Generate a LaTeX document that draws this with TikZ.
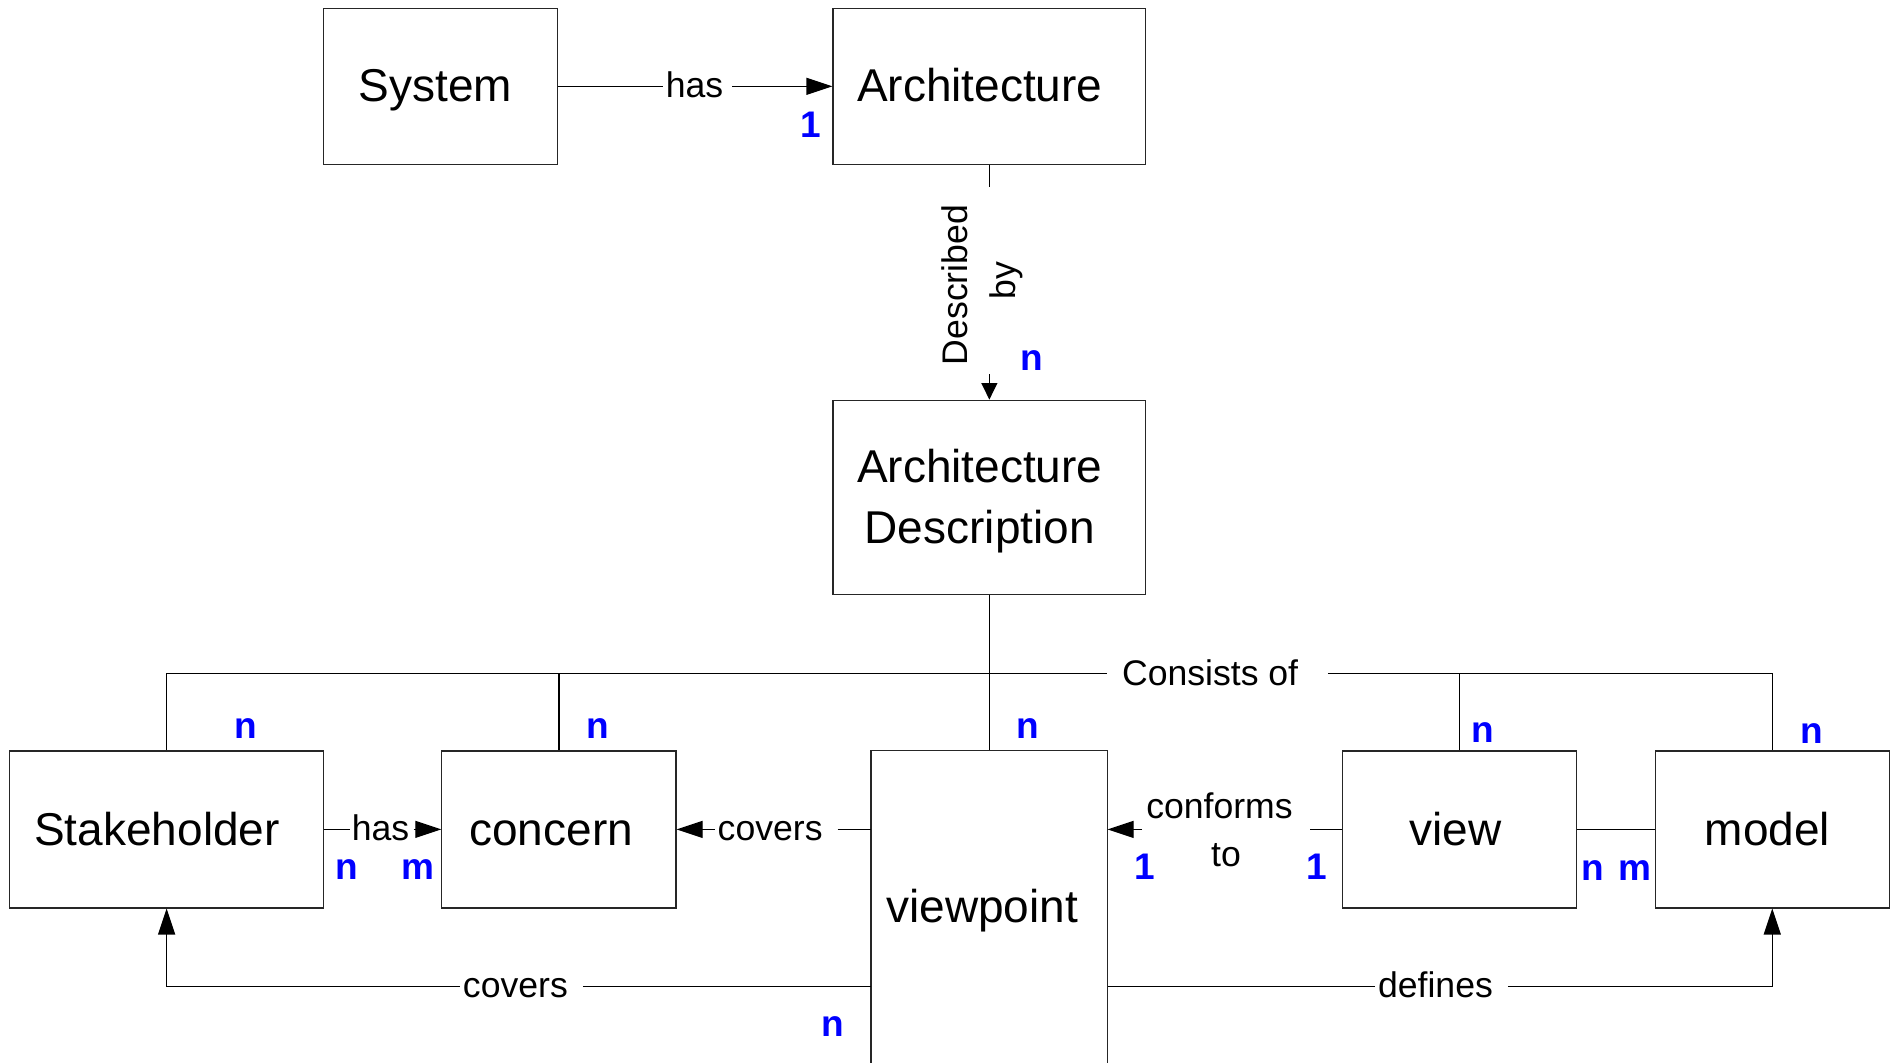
\documentclass[tikz,border=0pt]{standalone}
\usepackage{fontspec}
\setmainfont{Liberation Sans}
\usetikzlibrary{arrows.meta}

\begin{document}
\begin{tikzpicture}[x=0.60364pt, y=-0.60364pt, line width=0.6pt,
  boxfont/.style={font=\fontsize{23}{30.5}\selectfont},
  box/.style={draw=black!85, inner sep=0pt, boxfont, text height=15.6pt, text depth=0pt},
  openbox/.style={box, draw=none},
  twoline/.style={draw=black!85, inner sep=0pt, boxfont, align=center},
  lblfont/.style={font=\fontsize{17.8}{24}\selectfont},
  lbl/.style={inner xsep=0pt, inner ysep=1pt, lblfont, text height=11.5pt, text depth=0pt},
  lbltwo/.style={inner xsep=0pt, inner ysep=1pt, lblfont, align=center},
  card/.style={text=blue, inner sep=0pt, font=\fontsize{18.5}{20}\selectfont\bfseries},
  tip/.style={-{Triangle[length=13pt,width=8.5pt]}},
  smalltip/.style={-{Triangle[length=8.3pt,width=8pt]}},
]
\useasboundingbox (0,0) rectangle (1568,880.5);

% entity boxes
\node[box, minimum width=117.1pt, minimum height=77.9pt] (sys)  at (365,71.5)  {System\hspace*{5.4pt}};
\node[box, minimum width=156.3pt, minimum height=77.9pt] (arch) at (819.5,71.5) {Architecture\hspace*{9.6pt}};
\node[twoline, minimum width=156.3pt, minimum height=97.2pt] (ad) at (819.5,412)
  {\rule{0pt}{20.4pt}Architecture\hspace*{9.6pt}\\Description\hspace*{9.6pt}};
\node[box, minimum width=156.9pt, minimum height=78.5pt] (stake) at (138,687)  {Stakeholder\hspace*{9.6pt}};
\node[box, minimum width=117.1pt, minimum height=78.5pt] (conc)  at (463,687)  {concern\hspace*{7.8pt}};
\node[openbox, minimum width=117.7pt, minimum height=155.7pt] (vp) at (819.5,751) {viewpoint\hspace*{7.2pt}};
\draw[draw=black!85] (vp.south west) -- (vp.north west) -- (vp.north east) -- (vp.south east);
\node[box, minimum width=117.1pt, minimum height=78.5pt] (view)  at (1209,687) {view\hspace*{4.2pt}};
\node[box, minimum width=117.1pt, minimum height=78.5pt] (model) at (1468,687) {model\hspace*{4.8pt}};

% relation labels
\node[lbl, anchor=west] (has1) at (549,71.5) {\hspace*{1.2pt}has\hspace*{4.2pt}};
\node[lbltwo, rotate=90, anchor=west] (descby) at (813.5,310) {\hspace*{4.2pt}Described\hspace*{8.5pt}\\by};
\node[lbl, anchor=west] (cons) at (917,558) {\hspace*{7.2pt}Consists of\hspace*{14.5pt}};
\node[lbl, anchor=west] (has2) at (290,687) {\hspace*{0.6pt}has\hspace*{1.8pt}};
\node[lbl, anchor=west] (cov1) at (592,687) {\hspace*{1.2pt}covers\hspace*{7.2pt}};
\node[lbltwo, anchor=west] (conf) at (946,687) {\hspace*{1.8pt}conforms\hspace*{8.4pt}\\to};
\node[lbl, anchor=west] (cov2) at (381,817) {\hspace*{1.2pt}covers\hspace*{7.2pt}};
\node[lbl, anchor=west] (def)  at (1139,817) {\hspace*{1.2pt}defines\hspace*{7.2pt}};

% System has Architecture
\draw (sys.east) -- (has1.west);
\draw[tip] (has1.east) -- (arch.west);

% Architecture described by Architecture Description
\draw (arch.south) -- (arch.south |- descby.east);
\draw[smalltip] (arch.south |- descby.west) -- (ad.north);

% Architecture Description consists of ...
\draw (stake.north) |- (cons.west);
\draw (cons.east) -| (model.north);
\draw (conc.north) -- (conc.north |- cons.west);
\draw (view.north) -- (view.north |- cons.west);
\draw (ad.south) -- (vp.north);

% Stakeholder has concern
\draw (stake.east) -- (has2.west);
\draw[tip] (has2.east) -- (conc.west);

% viewpoint covers concern
\draw (cov1.east) -- (cov1.east -| vp.west);
\draw[tip] (cov1.west) -- (conc.east);

% view conforms to viewpoint
\draw (view.west) -- (conf.east);
\draw[tip] (conf.west) -- (conf.west -| vp.east);

% view -- model
\draw (view.east) -- (model.west);

% viewpoint covers Stakeholder
\draw (cov2.east) -- (cov2.east -| vp.west);
\draw[tip] (cov2.west) -| (stake.south);

% viewpoint defines model
\draw (def.west) -- (def.west -| vp.east);
\draw[tip] (def.east) -| (model.south);

% cardinalities
\node[card] (c1)  at (671.5,103) {1};
\node[card] (c2)  at (855,299)   {n};
\node[card] (c3)  at (203.5,603.5) {n};
\node[card] (c4)  at (495,603.5) {n};
\node[card] (c5)  at (851.7,603.5) {n};
\node[card] (c6)  at (1228,606.5) {n};
\node[card] (c7)  at (1501,608) {n};
\node[card] (c8)  at (287,720.5) {n};
\node[card] (c9)  at (346,720.5) {m};
\node[card] (c10) at (948,718) {1};
\node[card] (c11) at (1091,718) {1};
\node[card] (c12) at (1319,721) {n};
\node[card] (c13) at (1354,721) {m};
\node[card] (c14) at (690,850.4) {n};
\end{tikzpicture}
\end{document}
